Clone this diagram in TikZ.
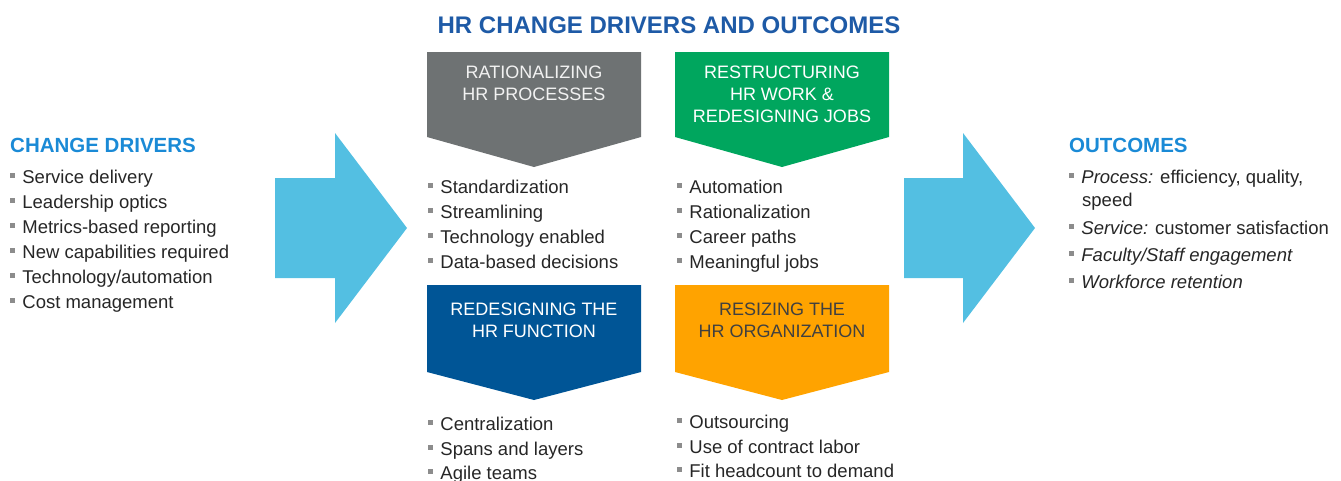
\documentclass[tikz,border=0pt]{standalone}
\usepackage{fontspec}
\setmainfont{Liberation Sans}
\definecolor{titleblue}{HTML}{1E5AA6}
\definecolor{headblue}{HTML}{1A8AD6}
\definecolor{arrowblue}{HTML}{53BFE2}
\definecolor{procgray}{HTML}{6E7273}
\definecolor{workgreen}{HTML}{00A65E}
\definecolor{funcblue}{HTML}{005596}
\definecolor{sizeorange}{HTML}{FFA300}
\definecolor{bodytext}{HTML}{262626}
\definecolor{bulgray}{HTML}{8C8C8C}
% small square list bullet
\newcommand{\sqbul}{{\color{bulgray}\rule[0.27em]{0.28em}{0.28em}}\hspace{0.38em}}
\tikzset{
  item/.style={anchor=base west, inner sep=0pt, text=bodytext,
    font=\fontsize{18.5}{23}\selectfont, align=left},
  heading/.style={anchor=base west, inner sep=0pt, text=headblue,
    font=\fontsize{20.5}{24}\selectfont\bfseries},
  boxlabel/.style={anchor=base, inner sep=0pt, align=center,
    font=\fontsize{18}{22}\selectfont},
}
\begin{document}
\begin{tikzpicture}[x=1pt,y=-1pt]
\useasboundingbox (0,0) rectangle (1341,480);

% title
\node[anchor=base, inner sep=0pt, text=titleblue,
  font=\fontsize{24}{28}\selectfont\bfseries] (title) at (669,33)
  {HR CHANGE DRIVERS AND OUTCOMES};

% big arrows
\fill[arrowblue] (275,178) -- (335,178) -- (335,133) -- (407,228)
  -- (335,323) -- (335,278) -- (275,278) -- cycle;
\fill[arrowblue] (904,178) -- (963,178) -- (963,133) -- (1035,228)
  -- (963,323) -- (963,278) -- (904,278) -- cycle;

% chevron boxes
\fill[procgray] (427,52) -- (641,52) -- (641,137) -- (534,167) -- (427,137) -- cycle;
\fill[workgreen] (675,52) -- (889,52) -- (889,137) -- (782,167) -- (675,137) -- cycle;
\fill[funcblue] (427,285) -- (641,285) -- (641,372) -- (534,400) -- (427,372) -- cycle;
\fill[sizeorange] (675,285) -- (889,285) -- (889,372) -- (782,400) -- (675,372) -- cycle;

% labels (base anchor sits on the last line)
\node[boxlabel, text=white!95!black] (proc) at (534,100) {RATIONALIZING\\HR PROCESSES};
\node[boxlabel, text=white] (work) at (782,122) {RESTRUCTURING\\HR WORK \&\\REDESIGNING JOBS};
\node[boxlabel, text=white] (func) at (534,337) {REDESIGNING THE\\HR FUNCTION};
\node[boxlabel, text=black!75] (size) at (782,337) {RESIZING THE\\HR ORGANIZATION};

% change drivers
\node[heading] (drivers) at (10,152) {CHANGE DRIVERS};
\node[item] (d1) at (10,183) {\sqbul Service delivery};
\node[item] (d2) at (10,208) {\sqbul Leadership optics};
\node[item] (d3) at (10,233) {\sqbul Metrics-based reporting};
\node[item] (d4) at (10,258) {\sqbul New capabilities required};
\node[item] (d5) at (10,283) {\sqbul Technology/automation};
\node[item] (d6) at (10,308) {\sqbul Cost management};

% process items
\node[item] (p1) at (428,193) {\sqbul Standardization};
\node[item] (p2) at (428,218) {\sqbul Streamlining};
\node[item] (p3) at (428,243) {\sqbul Technology enabled};
\node[item] (p4) at (428,268) {\sqbul Data-based decisions};

% work items
\node[item] (w1) at (677,193) {\sqbul Automation};
\node[item] (w2) at (677,218) {\sqbul Rationalization};
\node[item] (w3) at (677,243) {\sqbul Career paths};
\node[item] (w4) at (677,268) {\sqbul Meaningful jobs};

% function items
\node[item] (f1) at (428,430) {\sqbul Centralization};
\node[item] (f2) at (428,455) {\sqbul Spans and layers};
\node[item] (f3) at (428,479) {\sqbul Agile teams};

% size items
\node[item] (s1) at (677,428) {\sqbul Outsourcing};
\node[item] (s2) at (677,453) {\sqbul Use of contract labor};
\node[item] (s3) at (677,477) {\sqbul Fit headcount to demand};

% outcomes
\node[heading] (outcomes) at (1069,152) {OUTCOMES};
\node[item] (o1) at (1069,206) {\sqbul\textit{Process:} efficiency, quality,\\\hspace*{13pt}speed};
\node[item] (o2) at (1069,234) {\sqbul\textit{Service:} customer satisfaction};
\node[item] (o3) at (1069,261) {\sqbul\textit{Faculty/Staff engagement}};
\node[item] (o4) at (1069,288) {\sqbul\textit{Workforce retention}};
\end{tikzpicture}
\end{document}
